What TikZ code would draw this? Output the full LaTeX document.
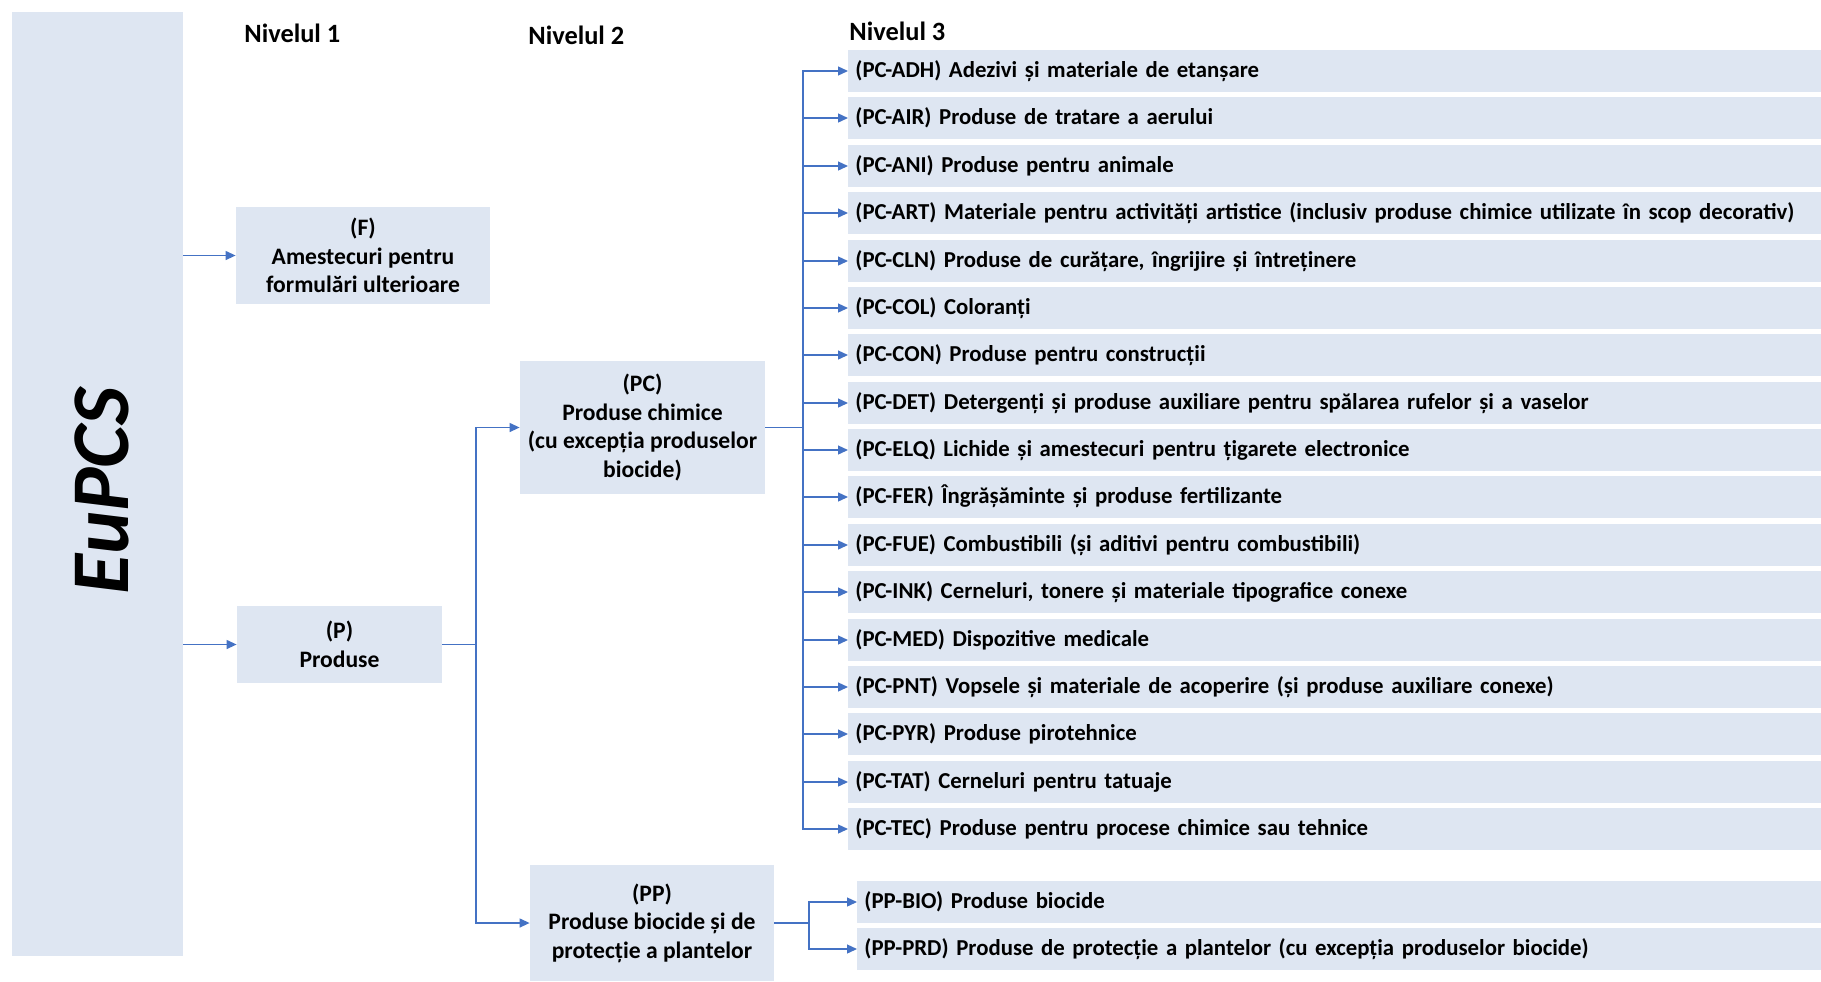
\documentclass[tikz,border=0pt]{standalone}
\usepackage{fontspec}
\setmainfont{Carlito}
\usepackage{tikz}
\usetikzlibrary{arrows.meta}
\definecolor{boxfill}{RGB}{222,230,242}
\definecolor{linkblue}{RGB}{68,114,196}

\begin{document}
\begin{tikzpicture}[x=0.5pt, y=-0.5pt,
        box/.style={fill=boxfill, inner sep=0pt, align=center, font=\fontsize{11.8}{14.25}\selectfont\bfseries},
        item/.style={fill=boxfill, anchor=west, minimum height=21pt, inner xsep=3.5pt, inner ysep=0pt, text height=8.3pt, text depth=2pt, align=left, text width=479.5pt, font=\fontsize{11.4}{13.5}\selectfont\bfseries},
        ppitem/.style={item, text width=475pt},
        level/.style={anchor=west, inner sep=0pt, font=\fontsize{13.2}{15}\selectfont\bfseries},
        link/.style={draw=linkblue, line width=0.65pt},
        arr/.style={link, -{Triangle[length=5pt,width=4.5pt]}}]
        \useasboundingbox (0,0) rectangle (1821,981);

        \coordinate (pbus) at (476,0);
        \coordinate (pcbus) at (803,0);
        \coordinate (ppbus) at (809,0);

        \node[box, minimum width=85.5pt, minimum height=472pt] (eupcs) at (97.5,484) {};
        \node[rotate=90, font=\fontsize{41}{43}\selectfont\bfseries\itshape] (eupcslabel) at (102,491) {EuPCS};

        \node[level] (niv1) at (244,33) {Nivelul 1};
        \node[level] (niv2) at (528,35) {Nivelul 2};
        \node[level] (niv3) at (849,31) {Nivelul 3};

        \node[box, minimum width=127pt, minimum height=48.5pt] (f) at (363,255.5) {(F)\\Amestecuri pentru\\formulări ulterioare};
        \node[box, minimum width=102.5pt, minimum height=38.5pt] (p) at (339.5,644.5) {(P)\\Produse};
        \node[box, minimum width=122.5pt, minimum height=66.5pt] (pc) at (642.5,427.5) {(PC)\\Produse chimice\\(cu excepția produselor\\biocide)};
        \node[box, minimum width=122pt, minimum height=58pt] (pp) at (652,923) {(PP)\\Produse biocide și de\\protecție a plantelor};

        \node[item] (adh) at (848,71) {(PC-ADH) Adezivi și materiale de etanșare};
        \node[item] (air) at (848,118) {(PC-AIR) Produse de tratare a aerului};
        \node[item] (ani) at (848,166) {(PC-ANI) Produse pentru animale};
        \node[item] (art) at (848,213) {(PC-ART) Materiale pentru activități artistice (inclusiv produse chimice utilizate în scop decorativ)};
        \node[item] (cln) at (848,261) {(PC-CLN) Produse de curățare, îngrijire și întreținere};
        \node[item] (col) at (848,308) {(PC-COL) Coloranți};
        \node[item] (con) at (848,355) {(PC-CON) Produse pentru construcții};
        \node[item] (det) at (848,403) {(PC-DET) Detergenți și produse auxiliare pentru spălarea rufelor și a vaselor};
        \node[item] (elq) at (848,450) {(PC-ELQ) Lichide și amestecuri pentru țigarete electronice};
        \node[item] (fer) at (848,497) {(PC-FER) Îngrășăminte și produse fertilizante};
        \node[item] (fue) at (848,545) {(PC-FUE) Combustibili (și aditivi pentru combustibili)};
        \node[item] (ink) at (848,592) {(PC-INK) Cerneluri, tonere și materiale tipografice conexe};
        \node[item] (med) at (848,640) {(PC-MED) Dispozitive medicale};
        \node[item] (pnt) at (848,687) {(PC-PNT) Vopsele și materiale de acoperire (și produse auxiliare conexe)};
        \node[item] (pyr) at (848,734) {(PC-PYR) Produse pirotehnice};
        \node[item] (tat) at (848,782) {(PC-TAT) Cerneluri pentru tatuaje};
        \node[item] (tec) at (848,829) {(PC-TEC) Produse pentru procese chimice sau tehnice};

        \node[ppitem] (bio) at (857,902) {(PP-BIO) Produse biocide};
        \node[ppitem] (prd) at (857,949) {(PP-PRD) Produse de protecție a plantelor (cu excepția produselor biocide)};

        \draw[arr] (eupcs.east |- f.west) -- (f.west);
        \draw[arr] (eupcs.east |- p.west) -- (p.west);

        \draw[link] (p.east) -- (p.east -| pbus);
        \draw[arr] (p.east -| pbus) |- (pc.west);
        \draw[arr] (p.east -| pbus) |- (pp.west);

        \draw[link] (pc.east) -- (pc.east -| pcbus);
        \draw[arr] (pc.east -| pcbus) |- (adh.west);
        \draw[arr] (pc.east -| pcbus) |- (air.west);
        \draw[arr] (pc.east -| pcbus) |- (ani.west);
        \draw[arr] (pc.east -| pcbus) |- (art.west);
        \draw[arr] (pc.east -| pcbus) |- (cln.west);
        \draw[arr] (pc.east -| pcbus) |- (col.west);
        \draw[arr] (pc.east -| pcbus) |- (con.west);
        \draw[arr] (pc.east -| pcbus) |- (det.west);
        \draw[arr] (pc.east -| pcbus) |- (elq.west);
        \draw[arr] (pc.east -| pcbus) |- (fer.west);
        \draw[arr] (pc.east -| pcbus) |- (fue.west);
        \draw[arr] (pc.east -| pcbus) |- (ink.west);
        \draw[arr] (pc.east -| pcbus) |- (med.west);
        \draw[arr] (pc.east -| pcbus) |- (pnt.west);
        \draw[arr] (pc.east -| pcbus) |- (pyr.west);
        \draw[arr] (pc.east -| pcbus) |- (tat.west);
        \draw[arr] (pc.east -| pcbus) |- (tec.west);

        \draw[link] (pp.east) -- (pp.east -| ppbus);
        \draw[arr] (pp.east -| ppbus) |- (bio.west);
        \draw[arr] (pp.east -| ppbus) |- (prd.west);
    \end{tikzpicture}
\end{document}
